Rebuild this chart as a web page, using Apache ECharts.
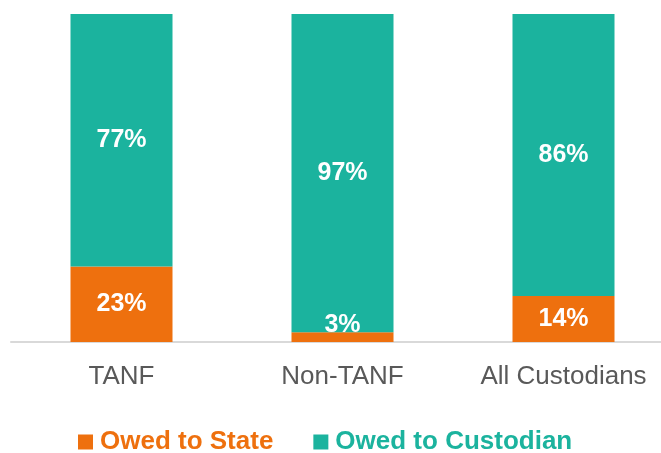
<!DOCTYPE html>
<html>
<head>
<meta charset="utf-8">
<script src="https://cdn.jsdelivr.net/npm/echarts@6/dist/echarts.min.js"></script>
<style>
  html, body { margin: 0; padding: 0; background: #fff; overflow: hidden; }
  /* a bit wider than the window: the last category band runs past the right edge */
  #chart { width: 674px; height: 453px; }
</style>
</head>
<body>
<div id="chart"></div>
<script>
const categories = ['TANF', 'Non-TANF', 'All Custodians'];
const owedToState = [23, 3, 14];
const owedToCustodian = [77, 97, 86];

const chart = echarts.init(document.getElementById('chart'));

// small segments get their label lifted above the bar
const stateData = owedToState.map(v => {
  if (v < 8) {
    return { value: v, label: { position: 'top', distance: -5 } };
  }
  return v;
});

let option = {
  animation: false,
  textStyle: { fontFamily: 'Liberation Sans, Arial, sans-serif' },
  grid: { left: 11, right: 0, top: 14, height: 328 },
  legend: {
    top: 429,
    left: 78,
    padding: 0,
    itemWidth: 15,
    itemHeight: 15,
    itemGap: 40,
    icon: 'rect',
    data: ['Owed to State', 'Owed to Custodian'],
    textStyle: { fontSize: 26, fontWeight: 'bold', color: 'inherit', padding: [0, 0, 0, 2] }
  },
  xAxis: {
    type: 'category',
    data: categories,
    axisLine: { lineStyle: { color: '#D9D9D9', width: 2 } },
    axisTick: { show: false },
    axisLabel: { fontSize: 26, color: '#595959', margin: 22 }
  },
  yAxis: {
    type: 'value',
    min: 0,
    max: 100,
    show: false
  },
  series: [
    {
      name: 'Owed to State',
      type: 'bar',
      stack: 'total',
      barWidth: 102,
      itemStyle: { color: '#EE700E' },
      label: {
        show: true,
        position: 'inside',
        formatter: '{c}%',
        color: '#fff',
        fontSize: 25,
        fontWeight: 'bold'
      },
      data: stateData
    },
    {
      name: 'Owed to Custodian',
      type: 'bar',
      stack: 'total',
      barWidth: 102,
      itemStyle: { color: '#1BB39E' },
      label: {
        show: true,
        position: 'inside',
        formatter: '{c}%',
        color: '#fff',
        fontSize: 25,
        fontWeight: 'bold'
      },
      data: owedToCustodian
    }
  ]
};

chart.setOption(option);
</script>
</body>
</html>
